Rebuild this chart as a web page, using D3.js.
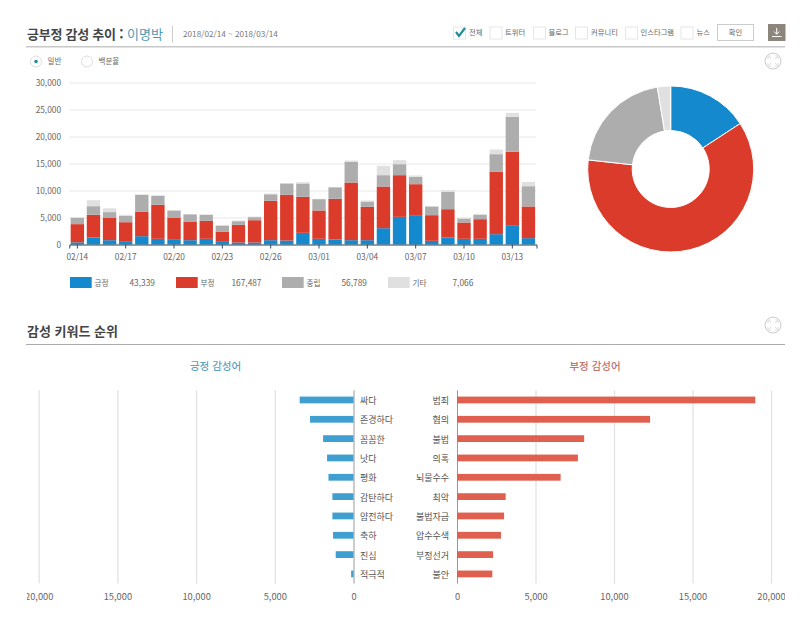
<!DOCTYPE html>
<html lang="ko">
<head>
<meta charset="utf-8">
<title>긍부정 감성 추이</title>
<script src="https://cdn.jsdelivr.net/npm/d3@7"></script>
<style>
  html, body { margin: 0; padding: 0; background: #fff; }
  svg { display: block; }
  text { font-family: "Noto Sans CJK KR", "Noto Sans", sans-serif; fill: #666; }
  .domain { display: none; }
</style>
</head>
<body>
<svg id="chart" width="800" height="625"></svg>
<script>
// Datos
const dates = ['02/14','02/15','02/16','02/17','02/18','02/19','02/20','02/21','02/22','02/23','02/24','02/25','02/26','02/27','02/28',
               '03/01','03/02','03/03','03/04','03/05','03/06','03/07','03/08','03/09','03/10','03/11','03/12','03/13','03/14'];
const positive = [400,1300,800,620,1540,1050,990,800,1050,490,370,370,800,740,2160,1050,925,800,800,3020,5120,5310,680,1300,1050,1050,1910,3580,1170];
const negative = [3370,4200,4200,3510,4560,6300,4010,3460,3330,1910,3270,4130,7290,8460,6670,5250,7535,10680,6170,7720,7720,5860,4750,5240,3020,3640,11550,13580,5870];
const neutral = [1180,1600,1000,1170,3100,1650,1300,1340,1120,1100,680,560,1210,2100,2470,2100,2140,3820,990,2100,2040,1360,1610,3210,740,800,3270,6480,3760];
const other = [50,1100,700,200,80,130,120,60,60,60,120,120,130,60,240,60,60,250,190,1730,740,250,60,310,130,190,860,740,800];

const seriesNames = ['긍정','부정','중립','기타'];
const seriesTotals = [43339,167487,56789,7066];
const seriesColors = ['#1489cd','#db3b2a','#aeadae','#e0e0e0'];

const posWords = ['싸다','존경하다','꼼꼼한','낫다','평화','감탄하다','얌전하다','축하','진심','적극적'];
const posCounts = [3420,2760,1930,1680,1590,1340,1340,1300,1130,150];
const negWords = ['범죄','혐의','불법','의혹','뇌물수수','최악','불법자금','압수수색','부정선거','불안'];
const negCounts = [19000,12300,8100,7700,6600,3100,3000,2800,2300,2250];

const filters = ['전체','트위터','블로그','커뮤니티','인스타그램','뉴스'];
const filterBoxX = [453.5,490,533.5,575.5,625.5,681];
const filterTextX = [469,505,548.5,591,640.5,696.5];

const svg = d3.select('#chart');
const fmt = d3.format(',');

// Encabezado
svg.append('text').attr('x', 27).attr('y', 38.5).text('긍부정 감성 추이 :')
    .style('font-size', '13px').style('letter-spacing', '-0.25px').style('font-weight', 700).style('fill', '#444');
svg.append('text').attr('x', 127).attr('y', 38.5).text('이명박').style('font-size', '13px').style('fill', '#4a9ab5');
svg.append('line').attr('x1', 172.5).attr('x2', 172.5).attr('y1', 26).attr('y2', 42.5).attr('stroke', '#ccc');
svg.append('text').attr('x', 183).attr('y', 36.8).text('2018/02/14 ~ 2018/03/14').style('font-size', '8.2px').style('fill', '#777');
svg.append('rect').attr('x', 26).attr('y', 46).attr('width', 759).attr('height', 1.5).attr('fill', '#c8c8c8');

// Filtros
filters.forEach((name, i) => {
    svg.append('rect').attr('x', filterBoxX[i]).attr('y', 27).attr('width', 12).attr('height', 12)
        .attr('fill', '#fff').attr('stroke', '#e6e6e6');
    svg.append('text').attr('x', filterTextX[i]).attr('y', 35).text(name).style('font-size', '7.3px');
});
svg.append('path').attr('d', 'M456 32 L459 36 L465 28').attr('fill', 'none').attr('stroke', '#1f8f9c').attr('stroke-width', 2.2);
svg.append('rect').attr('x', 717.5).attr('y', 24.5).attr('width', 36).attr('height', 16).attr('fill', '#fff').attr('stroke', '#ccc');
svg.append('text').attr('x', 735.5).attr('y', 35).attr('text-anchor', 'middle').text('확인').style('font-size', '7.3px');
svg.append('rect').attr('x', 768).attr('y', 24).attr('width', 17.5).attr('height', 17).attr('fill', '#8c857b');
svg.append('path').attr('d', 'M776.7 28 V34 M774 31.5 L776.7 34.2 L779.4 31.5 M772 36.5 H781.5')
    .attr('fill', 'none').attr('stroke', '#fff').attr('stroke-width', 1);

// Radio
svg.append('circle').attr('cx', 36).attr('cy', 61.5).attr('r', 5.5).attr('fill', '#fff').attr('stroke', '#ddd');
svg.append('circle').attr('cx', 36).attr('cy', 61.5).attr('r', 1.8).attr('fill', '#1f8f9c');
svg.append('text').attr('x', 47.5).attr('y', 64.3).text('일반').style('font-size', '7.5px');
svg.append('circle').attr('cx', 87).attr('cy', 61.5).attr('r', 5.5).attr('fill', '#fff').attr('stroke', '#ddd');
svg.append('text').attr('x', 98.5).attr('y', 64.3).text('백분율').style('font-size', '7.5px');

function expandIcon(cx, cy) {
    svg.append('circle').attr('cx', cx).attr('cy', cy).attr('r', 8).attr('fill', '#fff').attr('stroke', '#ccc');
    svg.append('path').attr('d', `M${cx-4} ${cy-4} L${cx+4} ${cy+4} M${cx+4} ${cy-4} L${cx-4} ${cy+4}`)
        .attr('stroke', '#ddd').attr('stroke-dasharray', '2.5 6').attr('fill', 'none');
    svg.append('path').attr('d', `M${cx-5} ${cy-2} V${cy-5} H${cx-2} M${cx+2} ${cy-5} H${cx+5} V${cy-2} M${cx+5} ${cy+2} V${cy+5} H${cx+2} M${cx-2} ${cy+5} H${cx-5} V${cy+2}`)
        .attr('stroke', '#ddd').attr('fill', 'none');
}
expandIcon(773, 61);
expandIcon(773, 325);

// Barras apiladas
const x = d3.scaleBand().domain(dates).range([69.3, 536.5]).paddingInner(0.17).paddingOuter(0.085);
const y = d3.scaleLinear().domain([0, 30000]).range([244.5, 82.5]);

svg.append('g').attr('transform', 'translate(69,0)')
    .call(d3.axisLeft(y).tickValues(d3.range(0, 30001, 5000)).tickFormat(fmt).tickSize(-467.5).tickPadding(8))
    .call(g => g.selectAll('.tick line').attr('stroke', '#e8e8e8'))
    .call(g => g.selectAll('.tick text').style('font-size', '8.3px').style('font-family', null));

const rows = dates.map((d, i) => ({ date: d, a: positive[i], b: negative[i], c: neutral[i], e: other[i] }));
const stacked = d3.stack().keys(['a', 'b', 'c', 'e'])(rows);

svg.append('g').selectAll('g').data(stacked).enter().append('g')
    .attr('fill', (d, i) => seriesColors[i])
    .selectAll('rect').data(d => d).enter().append('rect')
    .attr('x', d => x(d.data.date))
    .attr('y', d => y(d[1]))
    .attr('width', x.bandwidth())
    .attr('height', d => y(d[0]) - y(d[1]));

svg.append('g').attr('transform', 'translate(0,244.5)')
    .call(d3.axisBottom(x).tickValues(dates.filter((d, i) => i % 3 === 0)).tickSize(4).tickPadding(6))
    .call(g => g.select('.domain').style('display', 'inline').attr('stroke', '#2f4a5e'))
    .call(g => g.selectAll('.tick line').attr('stroke', '#2f4a5e'))
    .call(g => g.selectAll('.tick text').style('font-size', '8.3px').style('font-family', null));

// Leyenda
const legendX = [70, 176, 282, 388];
const legendValueX = [129.5, 231.5, 341.5, 452.5];
seriesNames.forEach((name, i) => {
    svg.append('rect').attr('x', legendX[i]).attr('y', 277).attr('width', 21.7).attr('height', 11).attr('fill', seriesColors[i]);
    svg.append('text').attr('x', legendX[i] + 24.5).attr('y', 285.5).text(name).style('font-size', '7.6px');
    svg.append('text').attr('x', legendValueX[i]).attr('y', 285.7).text(fmt(seriesTotals[i])).style('font-size', '8.3px');
});

// Dona
const pie = d3.pie().sort(null)(seriesTotals);
const arc = d3.arc().innerRadius(38.5).outerRadius(83);
svg.append('g').attr('transform', 'translate(670.7,169)')
    .selectAll('path').data(pie).enter().append('path')
    .attr('d', arc)
    .attr('fill', (d, i) => seriesColors[i])
    .attr('stroke', '#fff').attr('stroke-width', 1);

// Ranking de palabras
svg.append('text').attr('x', 27).attr('y', 335.5).text('감성 키워드 순위').style('font-size', '13px').style('font-weight', 700).style('fill', '#444');
svg.append('rect').attr('x', 26).attr('y', 344).attr('width', 759).attr('height', 1).attr('fill', '#aaa');
svg.append('text').attr('x', 215.5).attr('y', 370).attr('text-anchor', 'middle').text('긍정 감성어')
    .style('font-size', '10.5px').style('font-weight', 500).style('fill', '#5ba3bf');
svg.append('text').attr('x', 595).attr('y', 370).attr('text-anchor', 'middle').text('부정 감성어')
    .style('font-size', '10.5px').style('font-weight', 500).style('fill', '#c0726c');

// las etiquetas de 20,000 quedan cortadas en los bordes
const clip = svg.append('g');
svg.append('defs').append('clipPath').attr('id', 'edge').append('rect').attr('x', 27).attr('y', 380).attr('width', 758).attr('height', 240);
clip.attr('clip-path', 'url(#edge)');

function rankChart(words, counts, range, color, left) {
    const xs = d3.scaleLinear().domain([0, 20000]).range(range);
    const ys = d3.scaleBand().domain(words).range([390.3, 583.6]).paddingInner(0.65).paddingOuter(0.325);
    const axisY = 583.6;

    clip.append('g').attr('transform', `translate(0,${axisY})`)
        .call(d3.axisBottom(xs).tickValues(d3.range(0, 20001, 5000)).tickFormat(fmt).tickSize(-193.3).tickPadding(10))
        .call(g => g.selectAll('.tick line').attr('stroke', d => d === 0 ? '#999' : '#e2e2e2').attr('stroke-width', d => d === 0 ? 1 : 1.3))
        .call(g => g.selectAll('.tick text').style('font-size', '9.3px').style('font-family', null));

    clip.append('g').selectAll('rect').data(words).enter().append('rect')
        .attr('x', (d, i) => Math.min(xs(0), xs(counts[i])))
        .attr('y', d => ys(d))
        .attr('width', (d, i) => Math.abs(xs(counts[i]) - xs(0)))
        .attr('height', ys.bandwidth())
        .attr('fill', color);

    clip.append('g').selectAll('text').data(words).enter().append('text')
        .attr('x', left ? xs(0) + 6.5 : xs(0) - 8)
        .attr('y', d => ys(d) + ys.bandwidth() / 2 + 4)
        .attr('text-anchor', left ? 'start' : 'end')
        .text(d => d)
        .style('font-size', '9px')
        .style('fill', '#555');
}
rankChart(posWords, posCounts, [353.5, 38.7], '#3e9fd0', true);
rankChart(negWords, negCounts, [457, 771], '#e0604f', false);
</script>
</body>
</html>
